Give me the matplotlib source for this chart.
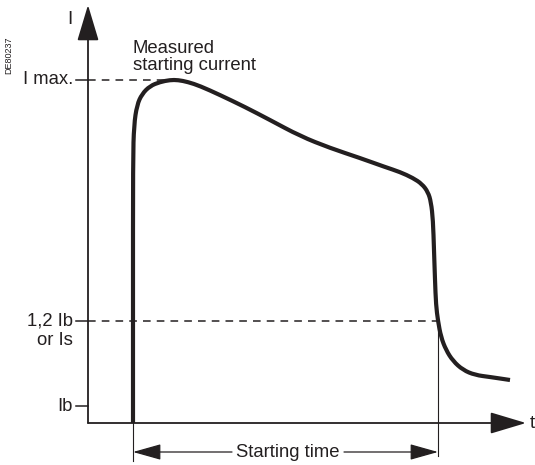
import numpy as np
import matplotlib
matplotlib.use('Agg')
import matplotlib.pyplot as plt
from matplotlib.path import Path
from matplotlib.patches import PathPatch

plt.rcParams['font.family'] = ['Liberation Sans', 'DejaVu Sans']

#Schematic drawn in picture units (x to the right, y downwards)
x_origin = 88
y_origin = 423
x_tip = 526
y_tip = 5

#Levels on the current axis
level_names = ['I max.', '1,2 Ib', 'Ib']
level_y = [80, 321, 406]

#Starting current curve
curve_x = [133, 133, 133, 134, 137, 142, 150, 160, 170, 178, 188, 200, 220, 245, 270,
           300, 330, 360, 385, 400, 413, 422, 428, 431, 433, 434, 435, 436, 438,
           441, 446, 453, 463, 475, 490, 510]
curve_y = [423, 300, 160, 125, 105, 94, 86, 82, 80, 80, 82, 86, 95, 107, 120,
           136, 148, 158, 167, 172, 178, 184, 192, 202, 220, 250, 280, 305, 321,
           337, 350, 361, 370, 375, 377, 380]

#Starting time limits
start_x = 133
end_x = 438
arrow_y = 452

fig = plt.figure(figsize=(5.35, 4.65), dpi=100)
ax = fig.add_axes([0, 0, 1, 1])
ax.set_xlim(0, 535)
ax.set_ylim(465, 0)
ax.axis('off')

#Axes with arrows
ax.annotate('', xy=(x_origin, y_tip), xytext=(x_origin, y_origin),
            arrowprops=dict(arrowstyle='-|>,head_length=1.5,head_width=0.45',
                            mutation_scale=15, lw=1.3, color='#231f20',
                            shrinkA=0, shrinkB=0))
ax.annotate('', xy=(x_tip, y_origin), xytext=(x_origin, y_origin),
            arrowprops=dict(arrowstyle='-|>,head_length=1.5,head_width=0.45',
                            mutation_scale=15, lw=1.3, color='#231f20',
                            shrinkA=0, shrinkB=0))
ax.text(70, 20, 'I', fontsize=13.5, ha='center', va='center', color='#231f20')
ax.text(532, 423, 't', fontsize=13.5, ha='center', va='center', color='#231f20')
ax.text(9, 55, 'DE80237', fontsize=6.5, rotation=90, ha='center', va='center', color='#231f20')

#Level ticks and labels
for name, y in zip(level_names, level_y):
    ax.plot([76, x_origin], [y, y], color='#231f20', lw=1.1)
    ax.text(73, y, name, fontsize=13.3, ha='right', va='center', color='#231f20')
ax.text(73, 340, 'or Is', fontsize=13.3, ha='right', va='center', color='#231f20')

#Dashed guide lines
ax.plot([x_origin, 178], [level_y[0], level_y[0]], color='#231f20', lw=1.1, dashes=(5, 4))
ax.plot([x_origin, end_x], [level_y[1], level_y[1]], color='#231f20', lw=1.1, dashes=(5, 4))

#Current curve (smoothed through the points)
verts = [(curve_x[0], curve_y[0])]
codes = [Path.MOVETO]
for i in range(1, len(curve_x) - 1):
    mx = (curve_x[i] + curve_x[i + 1]) / 2
    my = (curve_y[i] + curve_y[i + 1]) / 2
    verts += [(curve_x[i], curve_y[i]), (mx, my)]
    codes += [Path.CURVE3, Path.CURVE3]
verts.append((curve_x[-1], curve_y[-1]))
codes.append(Path.LINETO)
ax.add_patch(PathPatch(Path(verts, codes), fill=False, lw=3, color='#231f20',
                       capstyle='butt', joinstyle='round'))

ax.text(133, 57, 'Measured\nstarting current', fontsize=13.3, ha='left', va='center',
        linespacing=1.0, color='#231f20')

#Starting time markers
ax.plot([start_x, start_x], [y_origin, 461], color='#231f20', lw=0.8)
ax.plot([end_x, end_x], [level_y[1], 456], color='#231f20', lw=0.8)
ax.annotate('', xy=(start_x, arrow_y), xytext=(232, arrow_y),
            arrowprops=dict(arrowstyle='-|>,head_length=1.6,head_width=0.45',
                            mutation_scale=11, lw=0.9, color='#231f20',
                            shrinkA=0, shrinkB=0))
ax.annotate('', xy=(end_x, arrow_y), xytext=(344, arrow_y),
            arrowprops=dict(arrowstyle='-|>,head_length=1.6,head_width=0.45',
                            mutation_scale=11, lw=0.9, color='#231f20',
                            shrinkA=0, shrinkB=0))
ax.text(288, arrow_y, 'Starting time', fontsize=13.3, ha='center', va='center', color='#231f20')

plt.savefig('out.png', dpi=100, facecolor='white')
plt.close()
